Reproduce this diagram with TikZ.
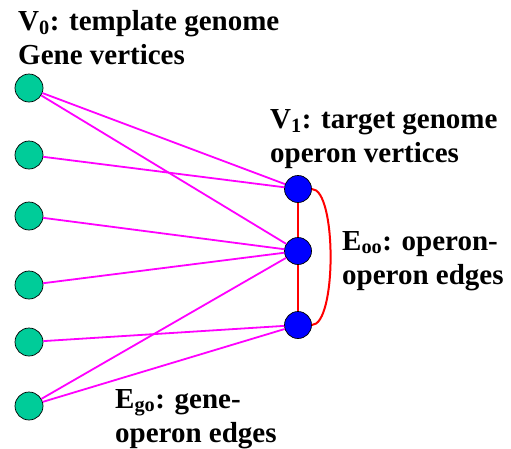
\documentclass[tikz,border=0pt]{standalone}
\usepackage{fontspec}
\setmainfont{Liberation Serif}
\newfontfamily\lblfont{Liberation Serif}
\definecolor{genegreen}{RGB}{0,204,153}
\definecolor{opblue}{RGB}{0,0,255}
\definecolor{edgemag}{RGB}{255,0,255}
\definecolor{edgered}{RGB}{255,0,0}
\begin{document}
\begin{tikzpicture}[x=1pt,y=-1pt,
  gene/.style={circle,draw=black,fill=genegreen,minimum size=28pt,inner sep=0pt,line width=0.7pt},
  operon/.style={circle,draw=black,fill=opblue,minimum size=27pt,inner sep=0pt,line width=0.7pt},
  goedge/.style={draw=edgemag,line width=1.8pt},
  ooedge/.style={draw=edgered,line width=2pt},
  lbl/.style={anchor=base west,inner sep=0pt,align=left,font=\lblfont\bfseries\fontsize{29}{34}\selectfont}]
\useasboundingbox (0,0) rectangle (511,448);
\node[gene] (g1) at (29,88) {};
\node[gene] (g2) at (29,155) {};
\node[gene] (g3) at (29,216) {};
\node[gene] (g4) at (29,285) {};
\node[gene] (g5) at (29,342) {};
\node[gene] (g6) at (29,406) {};
\node[operon] (b1) at (298,189) {};
\node[operon] (b2) at (298,251) {};
\node[operon] (b3) at (298,325) {};
\draw[goedge] (g1) -- (b1);
\draw[goedge] (g1) -- (b2);
\draw[goedge] (g2) -- (b1);
\draw[goedge] (g3) -- (b2);
\draw[goedge] (g4) -- (b2);
\draw[goedge] (g5) -- (b3);
\draw[goedge] (g6) -- (b2);
\draw[goedge] (g6) -- (b3);
\draw[ooedge] (b1) -- (b2);
\draw[ooedge] (b2) -- (b3);
\draw[ooedge] (b1.east) .. controls +(25,0) and +(25,0) .. (b3.east);
\node[lbl] (t0) at (18,64) {V\textsubscript{0}: template genome\\Gene vertices};
\node[lbl] (t1) at (270,162) {V\textsubscript{1}: target genome\\operon vertices};
\node[lbl] (too) at (342,284) {E\textsubscript{oo}: operon-\\operon edges};
\node[lbl] (tgo) at (115,442) {E\textsubscript{go}: gene-\\operon edges};
\end{tikzpicture}
\end{document}
